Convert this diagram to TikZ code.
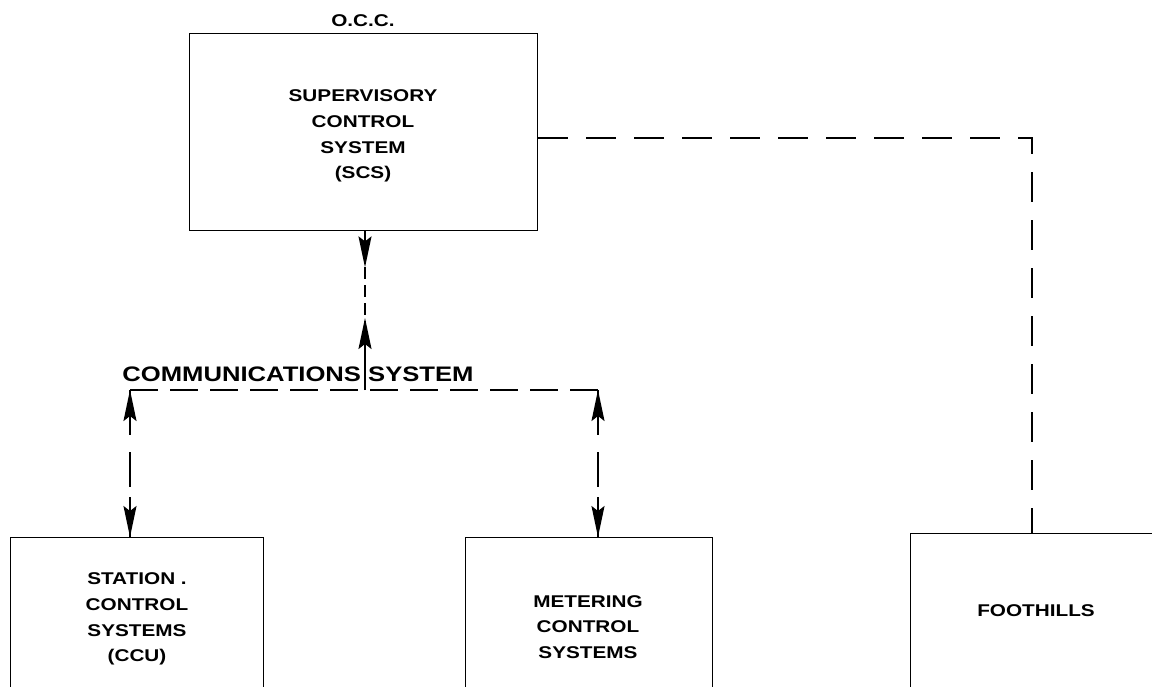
\documentclass[tikz,border=0pt]{standalone}
\usepackage{fontspec}
\setmainfont{Liberation Sans}[FakeStretch=1.22]
\usetikzlibrary{arrows.meta,calc}
\begin{document}
\begin{tikzpicture}[x=1pt,y=-1pt,
  box/.style={draw, line width=1.4pt, inner sep=0pt, anchor=north west},
  lbl/.style={font=\bfseries\fontsize{17}{25.7}\selectfont, align=center, inner sep=0pt},
  big/.style={font=\bfseries\fontsize{21}{25}\selectfont, inner sep=0pt},
  link/.style={line width=2.5pt},
  tip/.style={-{Stealth[length=31pt,width=13pt,inset=5pt]}, line width=1.7pt},
]
\useasboundingbox (0,0) rectangle (1152,686);
\fill[white] (0,0) rectangle (1152,686);
\begin{scope}
\clip (0,0) rectangle (1152,686);
% boxes
\node[box, minimum width=348pt, minimum height=197pt] (scs) at (189,33) {};
\node[box, minimum width=253pt, minimum height=200pt] (stn) at (10,537) {};
\node[box, minimum width=247pt, minimum height=200pt] (met) at (465,537) {};
\node[box, minimum width=300pt, minimum height=200pt] (foot) at (910,533) {};
% labels
\node[lbl] (occ) at (363,21) {O.C.C.};
\node[lbl] (scstxt) at (363,136) {SUPERVISORY\\CONTROL\\SYSTEM\\(SCS)};
\node[lbl] (stntxt) at (137,619) {STATION .\\CONTROL\\SYSTEMS\\(CCU)};
\node[lbl] (mettxt) at (588,627) {METERING\\CONTROL\\SYSTEMS};
\node[lbl] (foottxt) at (1036,611) {FOOTHILLS};
\node[big] (comm) at (298,374) {COMMUNICATIONS SYSTEM};
% coordinates
\coordinate (hub) at (365,390);
\coordinate (cl) at (130,390);
\coordinate (cr) at (598,390);
\coordinate (corner) at (1032,138);
% SCS to foothills
\draw[link, dash pattern=on 30pt off 18pt] (scs.east |- corner) -- (corner) -- (corner |- foot.north);
% SCS to communications
\draw[link, dash pattern=on 12pt off 6pt] (scs.south -| hub) -- (hub);
\draw[tip] (scs.south -| hub) -- ($(scs.south -| hub)+(0,36)$);
\draw[tip] (hub) -- ($(hub)+(0,-72)$);
% communications line
\draw[link, dash pattern=on 28pt off 12pt] (cl) -- (cr);
% branches
\draw[link, dash pattern=on 45pt off 17pt on 35pt off 10pt] (cl) -- (cl |- stn.north);
\draw[link, dash pattern=on 45pt off 17pt on 35pt off 10pt] (cr) -- (cr |- met.north);
\draw[tip] ($(cl)+(0,44)$) -- (cl);
\draw[tip] ($(cl |- stn.north)+(0,-40)$) -- (cl |- stn.north);
\draw[tip] ($(cr)+(0,44)$) -- (cr);
\draw[tip] ($(cr |- met.north)+(0,-40)$) -- (cr |- met.north);
\end{scope}
\end{tikzpicture}
\end{document}
